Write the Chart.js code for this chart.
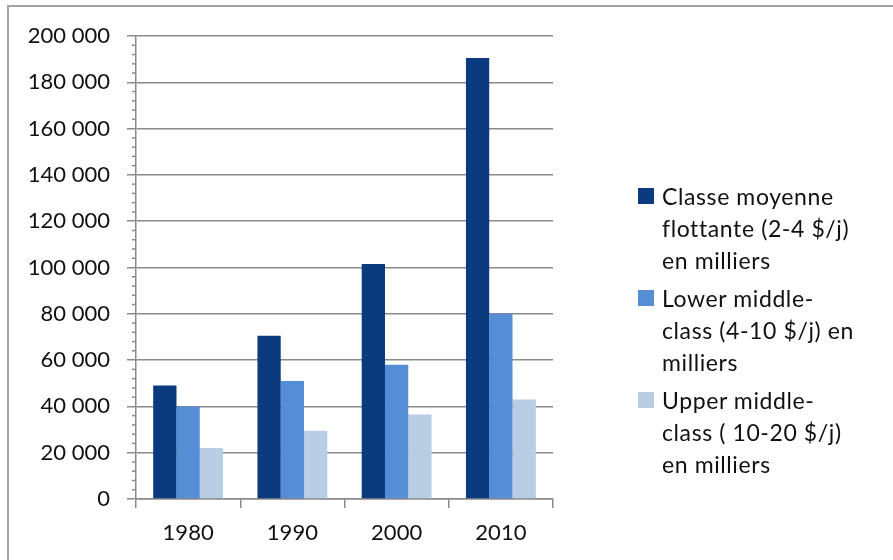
<!DOCTYPE html>
<html>
<head>
<meta charset="utf-8">
<script src="https://cdn.jsdelivr.net/npm/chart.js@4"></script>
<style>
  html, body { margin: 0; padding: 0; background: #fff; }
  #wrap { position: relative; width: 893px; height: 560px; overflow: hidden; }
  #frame { position: absolute; left: 7px; top: 5px; right: -10px; bottom: -10px;
           border-left: 2px solid #a3a3a3; border-top: 2px solid #a3a3a3; }
  #chart { position: absolute; left: 0; top: 0; }
  #legend { position: absolute; left: 638px; top: 180px; font-family: Lato, sans-serif;
            font-size: 23px; letter-spacing: 0.6px; color: #111; }
  .item { position: relative; padding-left: 24px; margin-bottom: 6px; line-height: 32px; }
  .box { position: absolute; left: 0; top: 8px; width: 16px; height: 16px; }
</style>
</head>
<body>
<div id="wrap">
  <div id="frame"></div>
  <canvas id="chart" width="893" height="560"></canvas>
  <div id="legend"></div>
</div>
<script>
var years = ['1980', '1990', '2000', '2010'];
var floating = [49000, 70500, 101500, 190500];
var lowerMiddle = [40000, 51000, 58000, 80000];
var upperMiddle = [22000, 29500, 36500, 43000];
var seriesNames = [
    ['Classe moyenne', 'flottante (2-4 $/j)', 'en milliers'],
    ['Lower middle-', 'class (4-10 $/j) en', 'milliers'],
    ['Upper middle-', 'class ( 10-20 $/j)', 'en milliers']
];
var colors = ['#0b3a7f', '#558ed5', '#b9cde5'];
var gridColor = '#8a8a8a';

// short ticks every 4 000 on the left side of the y axis
var minorTicks = {
    id: 'minorTicks',
    afterDraw: function(chart) {
        var y = chart.scales.y, ctx = chart.ctx, left = chart.chartArea.left;
        ctx.save();
        ctx.strokeStyle = gridColor;
        ctx.lineWidth = 1.5;
        for (var v = 0; v <= 200000; v += 4000) {
            if (v % 20000 === 0) continue;
            var py = y.getPixelForValue(v);
            ctx.beginPath();
            ctx.moveTo(left - 4, py);
            ctx.lineTo(left, py);
            ctx.stroke();
        }
        ctx.restore();
    }
};

var ctx = document.getElementById('chart').getContext('2d');
var myChart = new Chart(ctx, {
    type: 'bar',
    data: {
        labels: years,
        datasets: [
            { label: seriesNames[0].join(' '), data: floating, backgroundColor: colors[0] },
            { label: seriesNames[1].join(' '), data: lowerMiddle, backgroundColor: colors[1] },
            { label: seriesNames[2].join(' '), data: upperMiddle, backgroundColor: colors[2] }
        ]
    },
    options: {
        responsive: false,
        animation: false,
        layout: { padding: { left: 10, right: 340, top: 36, bottom: 20 } },
        datasets: { bar: { categoryPercentage: 0.67, barPercentage: 1.0 } },
        plugins: { legend: { display: false }, tooltip: { enabled: false } },
        scales: {
            x: {
                grid: { drawOnChartArea: false, offset: true, tickLength: 9, color: gridColor, lineWidth: 1.5 },
                border: { color: gridColor, width: 1.5 },
                ticks: { color: '#111', padding: 12, font: { family: 'Lato', size: 22 } },
                afterFit: function(s) { s.height = 41; }
            },
            y: {
                min: 0, max: 200000,
                grid: { color: gridColor, tickLength: 9, lineWidth: 1.5 },
                border: { color: gridColor, width: 1.5 },
                ticks: {
                    stepSize: 20000, padding: 17, color: '#111',
                    font: { family: 'Lato', size: 22 },
                    callback: function(v) { return v.toLocaleString('fr-FR').replace(/\s/g, ' '); }
                },
                afterFit: function(s) { s.width = 126; }
            }
        }
    },
    plugins: [minorTicks]
});

// legend with line breaks like the original
var legend = document.getElementById('legend');
seriesNames.forEach(function(lines, i) {
    var item = document.createElement('div');
    item.className = 'item';
    var box = document.createElement('span');
    box.className = 'box';
    box.style.background = colors[i];
    item.appendChild(box);
    lines.forEach(function(t) {
        var d = document.createElement('div');
        d.textContent = t;
        item.appendChild(d);
    });
    legend.appendChild(item);
});
</script>
</body>
</html>
